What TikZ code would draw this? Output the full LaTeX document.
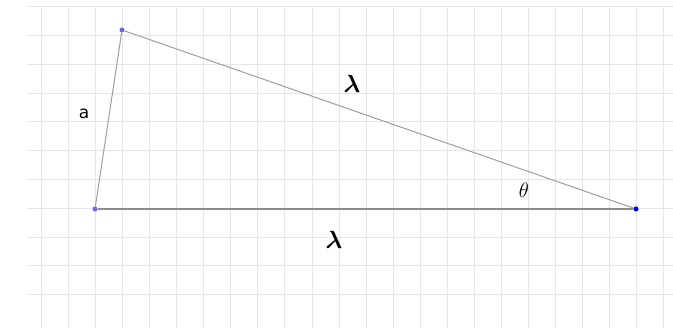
\documentclass[tikz,border=0pt]{standalone}
\usepackage{fontspec}
\newfontfamily\labelfont{DejaVu Sans}
\usetikzlibrary{positioning}

\begin{document}
\begin{tikzpicture}[
  x=1pt, y=-1pt,
  gridline/.style={draw=black!10, line width=1pt},
  side/.style={draw=black!38, line width=1pt},
  base/.style={draw=black!45, line width=1.2pt},
  pt/.style={circle, fill=blue!60!white, inner sep=0pt, minimum size=5pt},
  lbl/.style={inner sep=0pt, text=black},
  sidelbl/.style={lbl, font={\labelfont\fontsize{17}{19}\selectfont}},
  lamlbl/.style={lbl, font={\fontsize{30}{32}\selectfont\boldmath}},
  anglbl/.style={lbl, font={\fontsize{21}{23}\selectfont}},
]
  \useasboundingbox (0,0) rectangle (673,328);
  % grid
  \foreach \i in {0,...,23}
    \draw[gridline] (41.7+27.03*\i, 6.7) -- (41.7+27.03*\i, 328);
  \foreach \j in {0,...,10}
    \draw[gridline] (27, 6.7+28.8*\j) -- (673, 6.7+28.8*\j);

  \node[pt] (A) at (95,209) {};
  \node[pt] (B) at (122,30) {};
  \node[pt, fill=blue!90!black] (C) at (636,209) {};

  \draw[side] (A) -- (B);
  \draw[side] (B) -- (C);
  \draw[base] (A) -- (C);

  \node[sidelbl] (la) at (84,114) {a};
  \node[lamlbl] (lbc) at (352,84) {$\lambda$};
  \node[lamlbl] (lac) at (334,240) {$\lambda$};
  \node[anglbl] (lth) at (524,190) {$\theta$};
\end{tikzpicture}
\end{document}
